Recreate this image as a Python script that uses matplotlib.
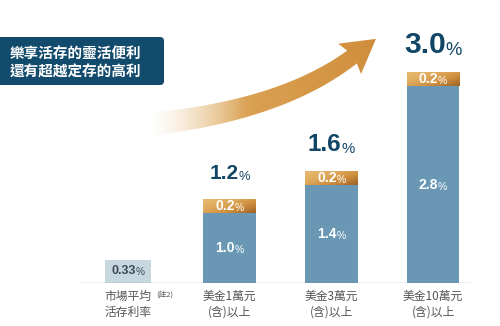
import matplotlib
matplotlib.use('Agg')
import matplotlib.pyplot as plt
import numpy as np
from matplotlib.colors import LinearSegmentedColormap, to_rgb
from matplotlib.path import Path
from matplotlib.patches import PathPatch, FancyBboxPatch

plt.rcParams['font.family'] = ['Noto Sans CJK TC', 'DejaVu Sans']

# ---- data -------------------------------------------------------------
categories = ['市場平均\n活存利率', '美金1萬元\n(含)以上', '美金3萬元\n(含)以上', '美金10萬元\n(含)以上']
base_rate = [0.33, 1.0, 1.4, 2.8]
bonus_rate = [0.0, 0.2, 0.2, 0.2]
total_rate = [0.33, 1.2, 1.6, 3.0]
headline = ['樂享活存的靈活便利', '還有超越定存的高利']
note_mark = '(註2)'

# ---- styles -----------------------------------------------------------
NUM_FONT = ['Liberation Sans', 'DejaVu Sans']
NAVY = '#124667'
BLUE = '#6a98b4'
PALE = '#c6d7df'
total_sizes = [0, 15, 17.5, 21.5]

W, H = 500, 326
fig = plt.figure(figsize=(W / 100, H / 100), dpi=100)
fig.patch.set_facecolor('white')

# decoration layer in pixel coordinates (headline box, rising arrow)
deco = fig.add_axes([0, 0, 1, 1])
deco.set_xlim(0, W)
deco.set_ylim(H, 0)
deco.axis('off')

box = FancyBboxPatch((-10, 37), 174, 48, boxstyle='round,pad=0,rounding_size=4',
                     facecolor='#134b6d', edgecolor='none')
deco.add_patch(box)
for i, line in enumerate(headline):
    deco.text(10, 53 + i * 19, line, color='white', fontsize=10.5, fontweight='bold',
              ha='left', va='center')

# curved arrow body along a quadratic Bezier, with a gradient fill
P0, C, P2 = np.array([152, 124.0]), np.array([282, 110.0]), np.array([352, 57.0])
t = np.linspace(0, 1, 60)[:, None]
pts = (1 - t) ** 2 * P0 + 2 * (1 - t) * t * C + t ** 2 * P2
tan = 2 * (1 - t) * (C - P0) + 2 * t * (P2 - C)
tan = tan / np.linalg.norm(tan, axis=1, keepdims=True)
nrm = np.column_stack([tan[:, 1], -tan[:, 0]])
half = (11.5 - 3.5 * t[:, 0])[:, None]
upper = pts + nrm * half
lower = pts - nrm * half
d = tan[-1]
n = nrm[-1]
tip = P2 + d * 30
wing1 = P2 + n * 19 - d * 3
wing2 = P2 - n * 19 - d * 3
outline = np.vstack([upper, wing1, tip, wing2, lower[::-1], upper[:1]])
arrow_path = Path(outline, closed=True)
clip = PathPatch(arrow_path, facecolor='none', edgecolor='none')
deco.add_patch(clip)

gx = np.linspace(140, 385, 300)
alpha = np.clip((gx - 150) / 95, 0, 1) ** 1.2
c_light = np.array(to_rgb('#ecc58e'))
c_mid = np.array(to_rgb('#d9a052'))
c_end = np.array(to_rgb('#d08d3a'))
f = np.clip((gx - 150) / 235, 0, 1)[:, None]
col = np.where(f < 0.45, c_light + (c_mid - c_light) * (f / 0.45),
               c_mid + (c_end - c_mid) * ((f - 0.45) / 0.55))
rgba = np.zeros((2, len(gx), 4))
rgba[..., :3] = col[None, :, :]
rgba[..., 3] = alpha[None, :]
im = deco.imshow(rgba, extent=(140, 385, 150, 20), aspect='auto', interpolation='bilinear')
im.set_clip_path(clip)
deco.set_xlim(0, W)
deco.set_ylim(H, 0)

# ---- bars -------------------------------------------------------------
ax = fig.add_axes([80 / W, 43 / H, 392 / W, 260 / H])
ax.patch.set_alpha(0)
x = np.arange(len(categories))
widths = [0.46] + [0.52] * (len(categories) - 1)
base_colors = [PALE] + [BLUE] * (len(categories) - 1)
base_bars = ax.bar(x, base_rate, width=widths, color=base_colors, zorder=2)
top_bars = ax.bar(x, bonus_rate, bottom=base_rate, width=widths, color='#cf8d3c', zorder=2)

gold = LinearSegmentedColormap.from_list('gold', ['#e6b96e', '#d0903e', '#9a6126'])
gy, gxx = np.mgrid[0:1:40j, 0:1:40j]
grad = (gxx * 0.55 + (1 - gy) * 0.45) ** 1.6
for bar in top_bars:
    if bar.get_height() <= 0:
        continue
    x0, y0 = bar.get_x(), bar.get_y()
    img = ax.imshow(grad, extent=(x0, x0 + bar.get_width(), y0, y0 + bar.get_height()),
                    origin='lower', cmap=gold, aspect='auto', zorder=3, interpolation='bilinear')
    img.set_clip_path(bar)

ax.set_xlim(-0.472, 3.383)
ax.set_ylim(0, 3.7)
for s in ax.spines.values():
    s.set_visible(False)
ax.axhline(0, color='#8c8c8c', lw=0.9, zorder=4)
ax.set_yticks([])
ax.set_xticks(x)
ax.set_xticklabels(categories, fontsize=8.5, color='#555555', linespacing=1.3)
ax.tick_params(axis='x', length=0, pad=5)

ax.annotate(note_mark, (0, 0), xytext=(20, -8), textcoords='offset points',
            fontsize=5.5, color='#555555', ha='left', va='center')


def pct_label(xv, yv, num, size, color, va='center', dy=0.0, ratio=0.65):
    psize = size * ratio
    shift = psize * 0.889 / 2
    txt = ax.annotate(num, (xv, yv), xytext=(-shift, dy), textcoords='offset points',
                      ha='center', va=va, fontsize=size, fontweight='bold',
                      color=color, family=NUM_FONT, zorder=5)
    ax.annotate('%', xy=(1, 0), xycoords=txt, xytext=(0, 0), textcoords='offset points',
                ha='left', va='bottom', fontsize=psize, color=color,
                family=NUM_FONT, zorder=5)


for i in range(len(categories)):
    if i == 0:
        pct_label(x[i], base_rate[i] / 2, f'{base_rate[i]:.2f}', 9, '#3d4a55', ratio=0.8)
        continue
    pct_label(x[i], base_rate[i] / 2, f'{base_rate[i]:.1f}', 10, 'white', ratio=0.75)
    pct_label(x[i], base_rate[i] + bonus_rate[i] / 2, f'{bonus_rate[i]:.1f}', 10, 'white',
              ratio=0.75)
    pct_label(x[i], total_rate[i], f'{total_rate[i]:.1f}', total_sizes[i], NAVY,
              va='baseline', dy=14, ratio=0.62)

fig.savefig('out.png', dpi=100, facecolor='white')
